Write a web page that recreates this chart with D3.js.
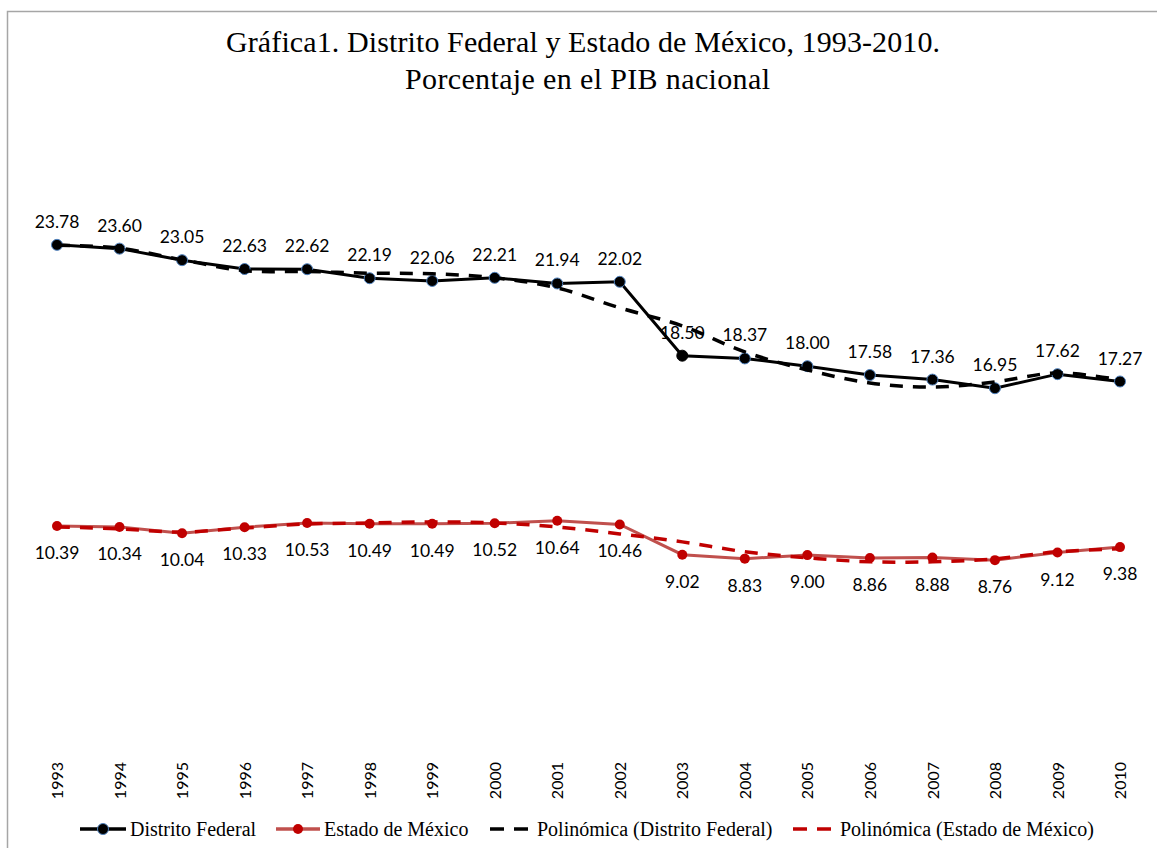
<!DOCTYPE html>
<html>
<head>
<meta charset="utf-8">
<script src="https://cdn.jsdelivr.net/npm/d3@7"></script>
<style>
  body { margin: 0; background: #fff; }
  svg { display: block; }
</style>
</head>
<body>
<svg id="chart"></svg>
<script>
const width = 1157, height = 848;

// data
const years = [1993, 1994, 1995, 1996, 1997, 1998, 1999, 2000, 2001, 2002, 2003, 2004, 2005, 2006, 2007, 2008, 2009, 2010];
const distritoFederal = [23.78, 23.60, 23.05, 22.63, 22.62, 22.19, 22.06, 22.21, 21.94, 22.02, 18.50, 18.37, 18.00, 17.58, 17.36, 16.95, 17.62, 17.27];
const estadoMexico = [10.39, 10.34, 10.04, 10.33, 10.53, 10.49, 10.49, 10.52, 10.64, 10.46, 9.02, 8.83, 9.00, 8.86, 8.88, 8.76, 9.12, 9.38];
// polynomial trend values
const trendDF = [23.76, 23.62, 23.07, 22.55, 22.51, 22.43, 22.40, 22.21, 21.73, 20.78, 19.92, 18.68, 17.82, 17.20, 17.01, 17.25, 17.68, 17.35];
const trendEM = [10.34, 10.25, 10.10, 10.29, 10.48, 10.53, 10.58, 10.53, 10.34, 10.01, 9.63, 9.16, 8.87, 8.68, 8.68, 8.82, 9.16, 9.30];
const yDomain = [0, 30];

const svg = d3.select("#chart")
  .attr("width", width)
  .attr("height", height);

// chart frame
svg.append("rect")
  .attr("x", 7.5).attr("y", 11.5)
  .attr("width", width + 10).attr("height", height)
  .attr("fill", "#fff")
  .attr("stroke", "#a6a6a6")
  .attr("stroke-width", 1.5);

// title
const serif = "'Liberation Serif', 'Times New Roman', serif";
svg.append("text")
  .attr("x", 226).attr("y", 52)
  .attr("font-family", serif)
  .attr("font-size", 30)
  .attr("textLength", 714)
  .attr("lengthAdjust", "spacing")
  .text("Gráfica1. Distrito Federal y Estado de México, 1993-2010.");
svg.append("text")
  .attr("x", 405).attr("y", 89)
  .attr("font-family", serif)
  .attr("font-size", 30)
  .attr("textLength", 365)
  .attr("lengthAdjust", "spacing")
  .text("Porcentaje en el PIB nacional");

// scales
const x = d3.scalePoint()
  .domain(years)
  .range([57, 1120]);

const y = d3.scaleLinear()
  .domain(yDomain)
  .range([744, 114.3]);

// x axis labels only (no axis line)
const xAxis = svg.append("g")
  .attr("transform", "translate(0,744)")
  .call(d3.axisBottom(x).tickSize(0).tickPadding(0));
xAxis.select(".domain").remove();
xAxis.selectAll("text")
  .attr("font-family", "Lato, 'Open Sans', sans-serif")
  .attr("font-size", 16)
  .attr("fill", "#000")
  .attr("transform", "rotate(-90)")
  .attr("text-anchor", "end")
  .attr("x", -18)
  .attr("y", 0)
  .attr("dy", "0.35em");

const line = d3.line()
  .x((d, i) => x(years[i]))
  .y(d => y(d));

const smooth = d3.line()
  .x((d, i) => x(years[i]))
  .y(d => y(d))
  .curve(d3.curveCatmullRom);

// Estado de México
svg.append("path")
  .datum(estadoMexico)
  .attr("fill", "none")
  .attr("stroke", "#c0504d")
  .attr("stroke-width", 3)
  .attr("d", line);

svg.selectAll(".em-dot")
  .data(estadoMexico)
  .enter().append("circle")
  .attr("class", "em-dot")
  .attr("cx", (d, i) => x(years[i]))
  .attr("cy", d => y(d))
  .attr("r", 5)
  .attr("fill", "#c00000");

// trend Estado de México
svg.append("path")
  .datum(trendEM)
  .attr("fill", "none")
  .attr("stroke", "#c00000")
  .attr("stroke-width", 3.5)
  .attr("stroke-dasharray", "13,10")
  .attr("d", smooth);

// Distrito Federal
svg.append("path")
  .datum(distritoFederal)
  .attr("fill", "none")
  .attr("stroke", "#000")
  .attr("stroke-width", 3)
  .attr("d", line);

svg.selectAll(".df-dot")
  .data(distritoFederal)
  .enter().append("circle")
  .attr("class", "df-dot")
  .attr("cx", (d, i) => x(years[i]))
  .attr("cy", d => y(d))
  .attr("r", 5.5)
  .attr("fill", "#000")
  .attr("stroke", (d, i) => years[i] === 2003 ? "#000" : "#4f81bd")
  .attr("stroke-width", 1);

// trend Distrito Federal
svg.append("path")
  .datum(trendDF)
  .attr("fill", "none")
  .attr("stroke", "#000")
  .attr("stroke-width", 3.5)
  .attr("stroke-dasharray", "13,10")
  .attr("d", smooth);

// data labels
const labelFont = "Lato, 'Open Sans', sans-serif";
svg.selectAll(".df-label")
  .data(distritoFederal)
  .enter().append("text")
  .attr("class", "df-label")
  .attr("x", (d, i) => x(years[i]))
  .attr("y", d => y(d) - 17)
  .attr("text-anchor", "middle")
  .attr("font-family", labelFont)
  .attr("font-size", 17.5)
  .attr("fill", "#000")
  .text(d => d.toFixed(2));

svg.selectAll(".em-label")
  .data(estadoMexico)
  .enter().append("text")
  .attr("class", "em-label")
  .attr("x", (d, i) => x(years[i]))
  .attr("y", d => y(d) + 33)
  .attr("text-anchor", "middle")
  .attr("font-family", labelFont)
  .attr("font-size", 17.5)
  .attr("fill", "#000")
  .text(d => d.toFixed(2));

// legend
const legendItems = [
  { label: "Distrito Federal", color: "#000", dash: null, dot: "#000", dotStroke: "#4f81bd", x0: 80, x1: 126, tx: 130 },
  { label: "Estado de México", color: "#c0504d", dash: null, dot: "#c00000", dotStroke: null, x0: 276, x1: 320, tx: 324 },
  { label: "Polinómica (Distrito Federal)", color: "#000", dash: "14,10", dot: null, x0: 490, x1: 528, tx: 537 },
  { label: "Polinómica (Estado de México)", color: "#c00000", dash: "14,10", dot: null, x0: 793, x1: 831, tx: 840 }
];

const legend = svg.append("g");
const ly = 829;
legendItems.forEach(item => {
  legend.append("line")
    .attr("x1", item.x0).attr("x2", item.x1)
    .attr("y1", ly).attr("y2", ly)
    .attr("stroke", item.color)
    .attr("stroke-width", 3.5)
    .attr("stroke-dasharray", item.dash);
  if (item.dot) {
    legend.append("circle")
      .attr("cx", (item.x0 + item.x1) / 2).attr("cy", ly)
      .attr("r", item.dotStroke ? 5.5 : 5)
      .attr("fill", item.dot)
      .attr("stroke", item.dotStroke)
      .attr("stroke-width", 1);
  }
  legend.append("text")
    .attr("x", item.tx).attr("y", ly + 7)
    .attr("font-family", serif)
    .attr("font-size", 20)
    .attr("fill", "#000")
    .text(item.label);
});
</script>
</body>
</html>
